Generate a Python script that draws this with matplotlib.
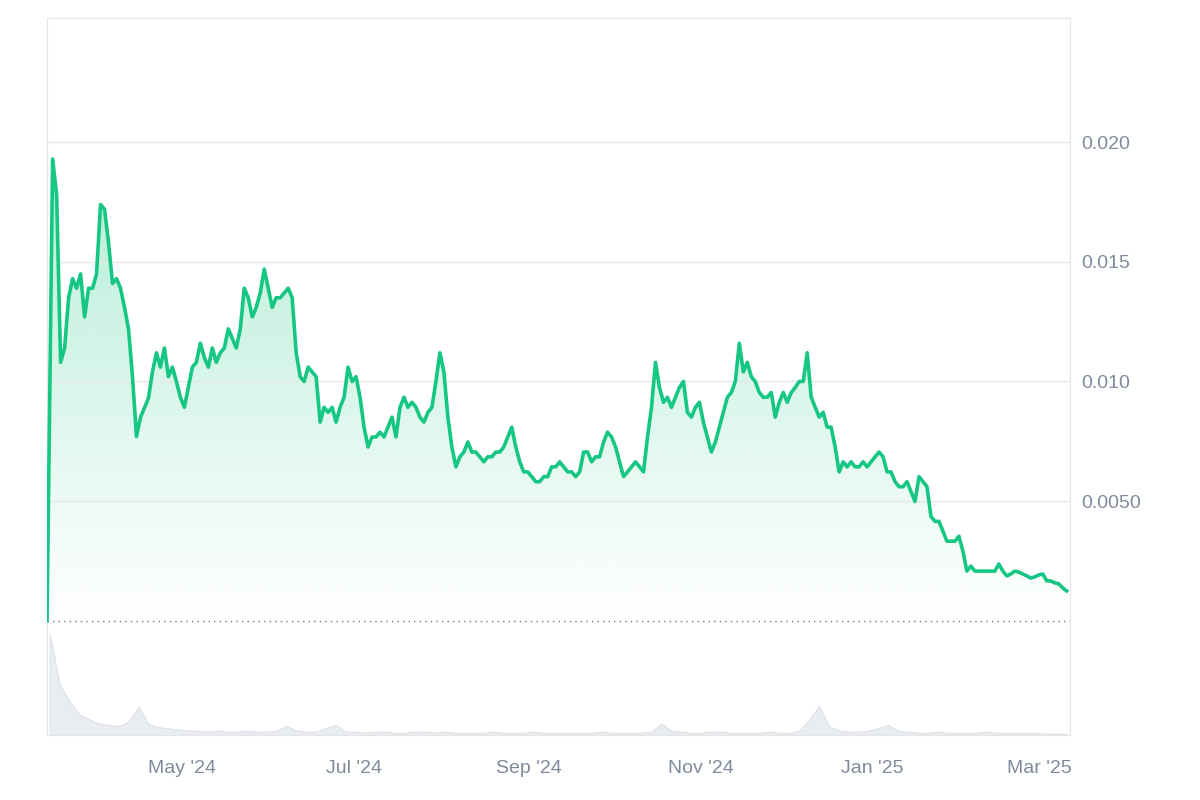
import matplotlib
matplotlib.use("Agg")
import matplotlib.pyplot as plt
import matplotlib.dates as mdates
import numpy as np
import pandas as pd

plt.rcParams['font.family'] = ['Liberation Sans', 'DejaVu Sans']

# price in thousandths of a unit
price_milli = [0.0,
19.3,17.8,10.8,11.4,13.5,14.3,13.9,14.5,12.7,13.9,13.9,14.5,17.4,17.2,15.8,14.1,14.3,13.9,13.1,12.2,10.2,7.7,8.5,8.9,9.3,10.4,11.2,10.6,11.4,10.2,
10.6,10.0,9.34,8.92,9.75,10.6,10.8,11.6,11.0,10.6,11.4,10.8,11.2,11.4,12.2,11.8,11.4,12.2,13.9,13.5,12.7,13.1,13.7,14.7,13.9,13.1,13.5,13.5,13.7,13.9,
13.5,11.2,10.2,10.0,10.6,10.4,10.2,8.30,8.92,8.71,8.92,8.30,8.92,9.34,10.6,10.0,10.2,9.34,8.09,7.26,7.68,7.68,7.88,7.68,8.09,8.51,7.68,8.92,9.34,8.92,
9.13,8.92,8.51,8.30,8.71,8.92,10.0,11.2,10.4,8.51,7.26,6.43,6.85,7.05,7.47,7.05,7.05,6.85,6.64,6.85,6.85,7.05,7.05,7.26,7.68,8.09,7.26,6.64,6.22,6.22,
6.02,5.81,5.81,6.02,6.02,6.43,6.43,6.64,6.43,6.22,6.22,6.02,6.22,7.05,7.05,6.64,6.85,6.85,7.47,7.88,7.68,7.26,6.64,6.02,6.22,6.43,6.64,6.43,6.22,7.68,
8.92,10.8,9.75,9.13,9.34,8.92,9.34,9.75,10.0,8.71,8.51,8.92,9.13,8.30,7.68,7.05,7.47,8.09,8.71,9.34,9.54,10.0,11.6,10.4,10.8,10.2,10.0,9.54,9.34,9.34,
9.54,8.51,9.13,9.54,9.13,9.54,9.75,10.0,10.0,11.2,9.34,8.92,8.51,8.71,8.09,8.09,7.26,6.22,6.64,6.43,6.64,6.43,6.43,6.64,6.43,6.64,6.85,7.05,6.85,6.22,
6.22,5.81,5.60,5.60,5.81,5.39,4.98,6.02,5.81,5.60,4.36,4.15,4.15,3.73,3.32,3.32,3.32,3.53,2.90,2.07,2.28,2.07,2.07,2.07,2.07,2.07,2.07,2.37,2.07,1.87,
1.95,2.07,2.03,1.95,1.87,1.78,1.83,1.91,1.95,1.66,1.66,1.58,1.54,1.37,1.24]
price_start = "2024-03-14"
price_rest_start = "2024-03-16 00:00"
price_step = "34h"

# volume every ~3.5 days (relative)
volume = [90,45,30,18,14,10,9,8,12,25,10,7,6,5,4,4,3,4,3,3,4,3,3,4,8,4,3,3,6,9,3,3,2,3,3,2,2,3,3,2,3,2,2,2,2,3,2,2,2,3,2,2,2,2,2,2,3,2,2,2,
2,3,10,4,3,2,2,3,3,2,2,2,2,3,2,2,4,14,26,8,4,3,3,4,6,9,4,3,2,2,3,2,2,2,2,3,2,2,2,2,2,1,1,1]
volume_start = "2024-03-15"
volume_step = "84h"

price_dates = [pd.Timestamp(price_start)] + list(pd.date_range(price_rest_start, periods=len(price_milli)-1, freq=price_step))
price = np.array(price_milli) * 1e-3
vol_dates = pd.date_range(volume_start, periods=len(volume), freq=volume_step)

GREEN = "#16c784"
fig = plt.figure(figsize=(12, 8), dpi=100)
W, H = 1200, 800
L, R, T, B, S = 47, 1070, 18, 735, 623
ax = fig.add_axes([L/W, (H-S)/H, (R-L)/W, (S-T)/H])
axv = fig.add_axes([L/W, (H-B)/H, (R-L)/W, (B-S)/H], sharex=ax)

xmin, xmax = pd.Timestamp("2024-03-14"), pd.Timestamp("2025-03-12")
ax.set_xlim(xmin, xmax)
ax.set_ylim(-0.0001, 0.0252)

ax.plot(price_dates, price, color=GREEN, lw=2.6, solid_joinstyle="round", zorder=3)
poly = ax.fill_between(price_dates, price, -0.0001, color="none", lw=0)
grad = np.linspace(0.0, 0.32, 256).reshape(-1, 1)
cmap = matplotlib.colors.LinearSegmentedColormap.from_list("g", [(0.086,0.78,0.52,0), (0.086,0.78,0.52,1)])
im = ax.imshow(grad, extent=[mdates.date2num(xmin), mdates.date2num(xmax), -0.0001, 0.0195],
               aspect="auto", origin="lower", cmap=cmap, vmin=0, vmax=1, zorder=1, interpolation="bilinear")
im.set_clip_path(poly.get_paths()[0], transform=ax.transData)
ax.axhline(0.0, color="#777777", lw=1, ls=(0, (1, 3)), zorder=2)

ax.set_yticks([0.005, 0.010, 0.015, 0.020])
ax.set_yticklabels(["0.0050", "0.010", "0.015", "0.020"])
ax.yaxis.tick_right()
ax.grid(axis="y", color="#e8e8e8", lw=1)
ax.tick_params(axis="y", length=0, pad=8, labelsize=14, labelcolor="#808a9d")
ax.tick_params(axis="x", length=0, labelbottom=False)
for s in ["top", "left", "right"]:
    ax.spines[s].set_color("#e6e6e6")
ax.spines["bottom"].set_visible(False)

axv.fill_between(vol_dates, volume, 0, color="#e9edf1", lw=0.8, edgecolor="#dde2e8")
axv.set_ylim(0, 100)
axv.set_yticks([])
for s in ["bottom", "left", "right"]:
    axv.spines[s].set_color("#e6e6e6")
axv.spines["top"].set_visible(False)
ticks = pd.to_datetime(["2024-05-01", "2024-07-01", "2024-09-01", "2024-11-01", "2025-01-01", "2025-03-01"])
axv.set_xticks(ticks)
axv.set_xticklabels(["May '24", "Jul '24", "Sep '24", "Nov '24", "Jan '25", "Mar '25"])
axv.tick_params(axis="x", length=0, pad=18, labelsize=14, labelcolor="#808a9d")
axv.set_xlim(xmin, xmax)

fig.savefig("out.png", dpi=100, facecolor="white")
